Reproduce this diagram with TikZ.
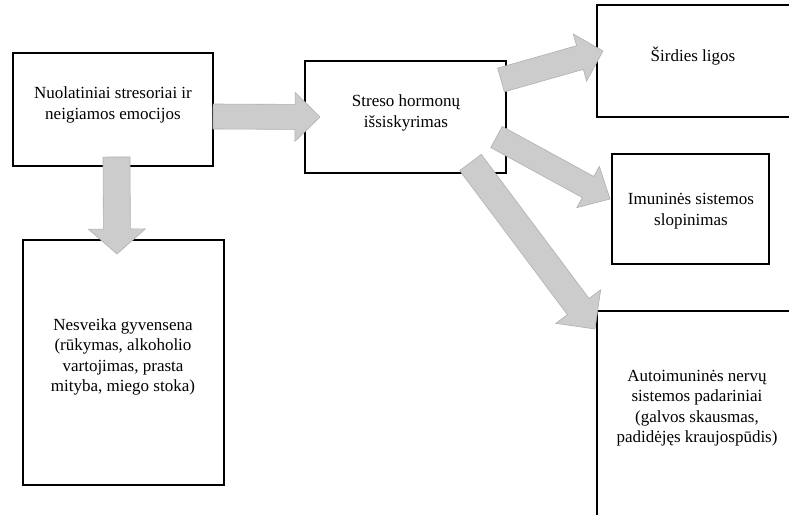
\documentclass[tikz,border=0pt]{standalone}
\usepackage{fontspec}
\setmainfont{Liberation Serif}
\usetikzlibrary{calc}

\tikzset{
  box/.style={draw=black, line width=1.3pt, fill=white, inner sep=0pt},
  boxtext/.style={align=center, inner sep=0pt, font=\fontsize{17}{20.5}\selectfont},
  fatarrow/.style={fill=gray!40, draw=gray!62, line width=0.6pt, line join=miter},
}

% block arrow: #1 start, #2 tip, #3 shaft half width, #4 head half width, #5 head length
\newcommand\blockarrow[5]{%
  \coordinate (ba-b) at ($(#2)!#5!(#1)$);
  \path[fatarrow]
    ($(#1)!#3!90:(#2)$) -- ($(ba-b)!#3!90:(#2)$) -- ($(ba-b)!#4!90:(#2)$) --
    (#2) --
    ($(ba-b)!#4!-90:(#2)$) -- ($(ba-b)!#3!-90:(#2)$) -- ($(#1)!#3!-90:(#2)$) -- cycle;
}

\begin{document}
\begin{tikzpicture}[x=1pt,y=-1pt]
\useasboundingbox (0,0) rectangle (789,514);
\clip (0,0) rectangle (789,514);
\fill[white] (0,0) rectangle (789,514);

% boxes
\node[box, minimum width=200pt, minimum height=113pt] (stress) at (113,109.5) {};
\node[box, minimum width=201pt, minimum height=112pt] (horm) at (405.5,117) {};
\node[box, minimum width=201pt, minimum height=245pt] (life) at (123.5,362.5) {};
\node[box, minimum width=194pt, minimum height=112pt] (heart) at (694,61) {};
\node[box, minimum width=157pt, minimum height=110pt] (immune) at (690.5,209) {};
\node[box, minimum width=200pt, minimum height=220pt] (auto) at (697,421) {};

% arrow end points
\coordinate (a1s) at (213,116.5);   \coordinate (a1t) at (320,117);
\coordinate (a2s) at (116.5,157);   \coordinate (a2t) at (117,254);
\coordinate (a3s) at (501,80);      \coordinate (a3t) at (603,51);
\coordinate (a4s) at (496.5,137);   \coordinate (a4t) at (610,199);
\coordinate (a5s) at (470.5,162.5); \coordinate (a5t) at (595,329);

\blockarrow{a1s}{a1t}{12.5pt}{24.5pt}{25pt}
\blockarrow{a2s}{a2t}{13.5pt}{28.5pt}{25pt}
\blockarrow{a3s}{a3t}{12.3pt}{24.5pt}{24pt}
\blockarrow{a4s}{a4t}{12pt}{23.5pt}{25pt}
\blockarrow{a5s}{a5t}{13.5pt}{28pt}{28pt}

% texts
\node[boxtext] (stresst) at (113,105) {Nuolatiniai stresoriai ir\\neigiamos emocijos};
\node[boxtext] (hormt) at (406,113) {Streso hormonų\\išsiskyrimas};
\node[boxtext] (lifet) at (123,357) {Nesveika gyvensena\\(rūkymas, alkoholio\\vartojimas, prasta\\mityba, miego stoka)};
\node[boxtext] (heartt) at (693,56) {Širdies ligos};
\node[boxtext] (immunet) at (691,211) {Imuninės sistemos\\slopinimas};
\node[boxtext] (autot) at (697,408) {Autoimuninės nervų\\sistemos padariniai\\(galvos skausmas,\\padidėjęs kraujospūdis)};
\end{tikzpicture}
\end{document}
